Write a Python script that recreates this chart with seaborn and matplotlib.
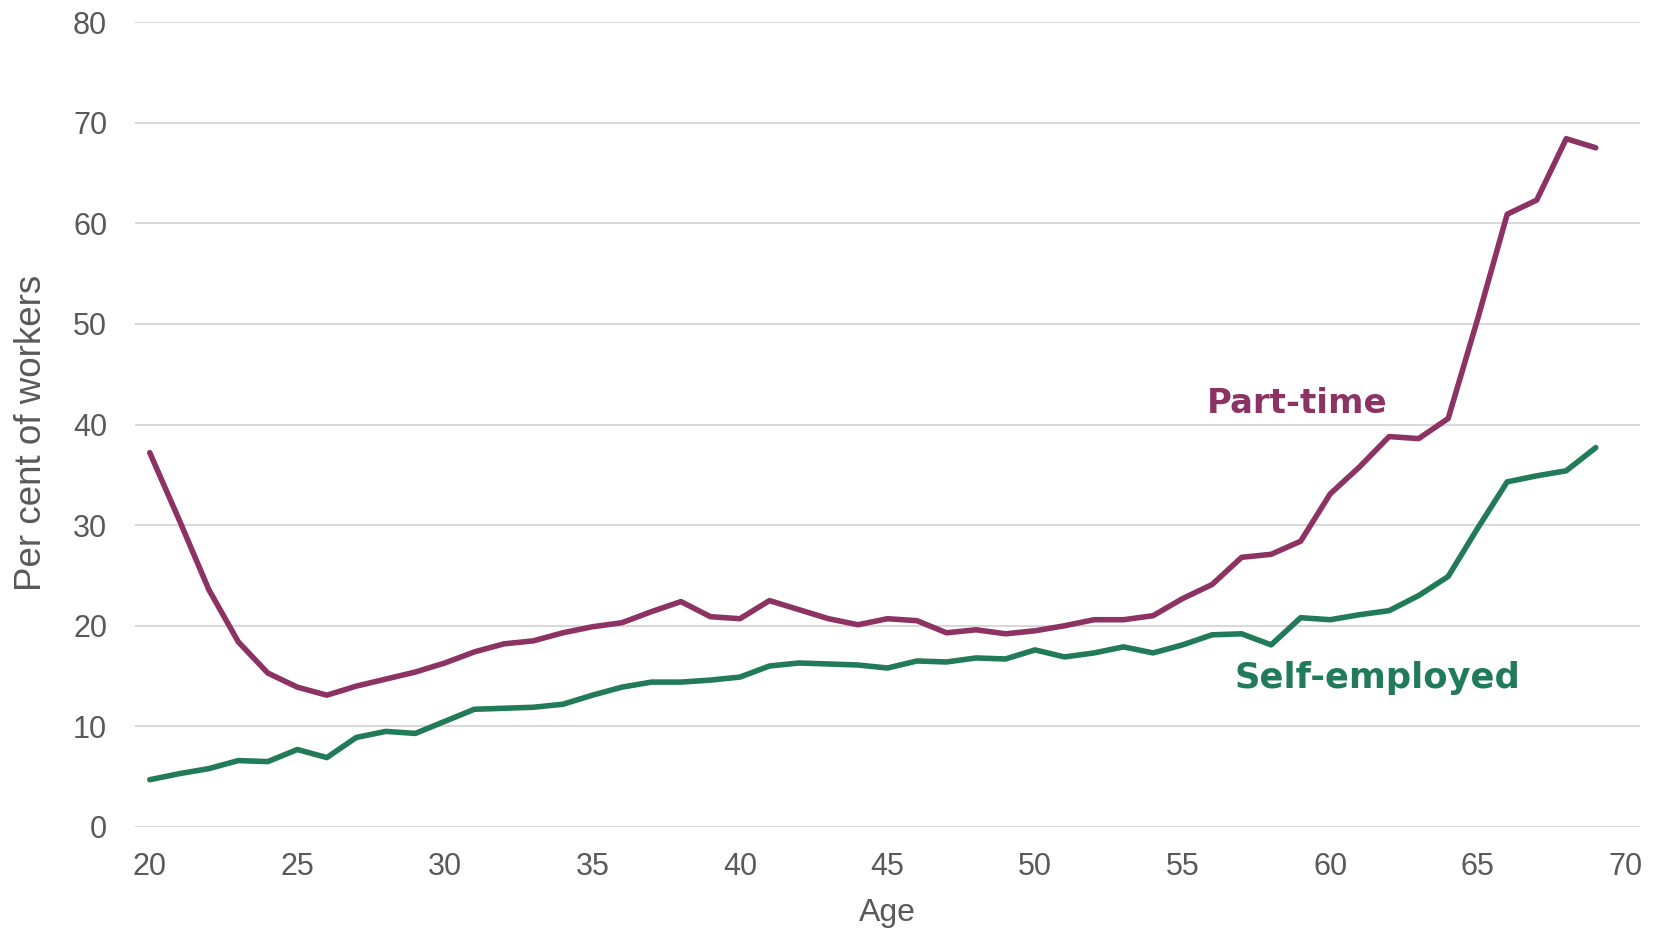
"""
Part-time and self-employed workers by age.
"""

import matplotlib
matplotlib.use('Agg')
import matplotlib.pyplot as plt
import numpy as np
import pandas as pd
import seaborn as sns

ages = list(range(20, 70))
part_time = [37.2, 30.5, 23.6, 18.4, 15.3, 13.9, 13.1, 14.0, 14.7, 15.4,
             16.3, 17.4, 18.2, 18.5, 19.3, 19.9, 20.3, 21.4, 22.4, 20.9,
             20.7, 22.5, 21.6, 20.7, 20.1, 20.7, 20.5, 19.3, 19.6, 19.2,
             19.5, 20.0, 20.6, 20.6, 21.0, 22.7, 24.1, 26.8, 27.1, 28.4,
             33.1, 35.8, 38.8, 38.6, 40.6, 50.5, 60.9, 62.3, 68.4, 67.5]
self_employed = [4.7, 5.3, 5.8, 6.6, 6.5, 7.7, 6.9, 8.9, 9.5, 9.3,
                 10.5, 11.7, 11.8, 11.9, 12.2, 13.1, 13.9, 14.4, 14.4, 14.6,
                 14.9, 16.0, 16.3, 16.2, 16.1, 15.8, 16.5, 16.4, 16.8, 16.7,
                 17.6, 16.9, 17.3, 17.9, 17.3, 18.1, 19.1, 19.2, 18.1, 20.8,
                 20.6, 21.1, 21.5, 23.0, 24.9, 29.7, 34.3, 34.9, 35.4, 37.7]
series_names = ['Part-time', 'Self-employed']
x_ticks = [20, 25, 30, 35, 40, 45, 50, 55, 60, 65, 70]
y_ticks = [0, 10, 20, 30, 40, 50, 60, 70, 80]

colors = {'Part-time': '#8C3363', 'Self-employed': '#217A58'}

df = pd.DataFrame({'Age': ages * 2,
                   'Value': part_time + self_employed,
                   'Series': [series_names[0]] * len(ages) + [series_names[1]] * len(ages)})

sns.set_theme(style='whitegrid')
plt.rcParams['font.family'] = ['Liberation Sans', 'DejaVu Sans']

fig = plt.figure(figsize=(16.59, 9.31), dpi=100)
ax = fig.add_axes([135 / 1659, 1 - 827 / 931, 1505 / 1659, 805 / 931])

sns.lineplot(data=df, x='Age', y='Value', hue='Series', palette=colors,
             linewidth=4, legend=False, ax=ax, clip_on=False)

ax.set_xlim(19.5, 70.5)
ax.set_ylim(0, 80)
ax.set_xticks(x_ticks)
ax.set_yticks(y_ticks)
ax.grid(axis='y', color='#d9d9d9', linewidth=1.5)
ax.grid(axis='x', visible=False)
for s in ax.spines.values():
    s.set_visible(False)
ax.tick_params(axis='both', length=0, labelsize=22, labelcolor='#595959')
ax.tick_params(axis='y', pad=20)
ax.tick_params(axis='x', pad=18)

ax.set_xlabel('Age', fontsize=23, color='#595959')
ax.set_ylabel('Per cent of workers', fontsize=26.5, color='#595959')
ax.xaxis.set_label_coords(0.5, -0.088)
ax.yaxis.set_label_coords(-0.057, 0.49)

ax.text(58.9, 42.1, 'Part-time', color=colors['Part-time'], fontsize=24.5,
        fontweight='bold', family='DejaVu Sans', ha='center', va='center')
ax.text(61.6, 14.8, 'Self-employed', color=colors['Self-employed'], fontsize=25.5,
        fontweight='bold', family='DejaVu Sans', ha='center', va='center')

fig.savefig('out.png', dpi=100, facecolor='white')
